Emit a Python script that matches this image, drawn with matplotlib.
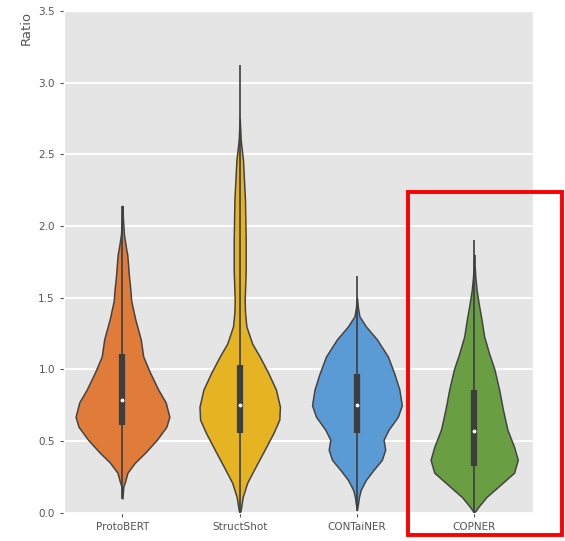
import matplotlib
matplotlib.use("Agg")
import matplotlib.pyplot as plt
from matplotlib.patches import Rectangle
import numpy as np

plt.style.use("ggplot")

models = ["ProtoBERT", "StructShot", "CONTaiNER", "COPNER"]
colors = ["#E07B39", "#E6B422", "#5B9BD5", "#6A9E42"]

# density profiles: (ratio, relative half width)
proto_y = [0.10, 0.18, 0.22, 0.28, 0.35, 0.42, 0.51, 0.60, 0.67, 0.77, 0.86, 0.98,
           1.09, 1.21, 1.35, 1.48, 1.55, 1.65, 1.74, 1.80, 1.85, 1.94, 2.05, 2.14]
proto_d = [0, 0.8, 2.7, 5, 12.5, 22.8, 34.5, 44, 47, 43.3, 35.8, 27.5,
           20.8, 18.3, 12.8, 8.7, 8, 6.5, 5.5, 4.8, 3.5, 1.5, 0.5, 0]
struct_y = [0.00, 0.02, 0.11, 0.21, 0.32, 0.44, 0.56, 0.65, 0.74, 0.86, 0.98, 1.09,
            1.18, 1.30, 1.40, 1.48, 1.69, 1.90, 2.18, 2.46, 2.60, 2.75]
struct_d = [0, 1, 3, 7.5, 15.8, 25, 34, 39.7, 40.3, 36.3, 28.3, 20,
            12.5, 6.7, 5.3, 5, 6, 6, 5.3, 3.3, 1, 0]
cont_y = [0.02, 0.06, 0.11, 0.16, 0.23, 0.30, 0.37, 0.44, 0.51, 0.58, 0.67, 0.75,
          0.86, 0.97, 1.09, 1.21, 1.30, 1.37, 1.43, 1.50]
cont_d = [0, 1, 2, 3.8, 9, 16.7, 25, 28.3, 26.7, 31.7, 41, 45,
          42.5, 37.5, 31, 20, 9, 2.5, 1, 0]
cop_y = [0.00, 0.04, 0.11, 0.18, 0.28, 0.37, 0.46, 0.58, 0.72, 0.86, 1.00, 1.11,
         1.23, 1.35, 1.44, 1.55, 1.64, 1.72, 1.80]
cop_d = [0, 4, 12.2, 23.7, 40, 43.7, 40, 33.3, 28.8, 25, 20.3, 15,
         10, 7.3, 5, 2.5, 1.2, 0.5, 0]

# box stats: whisker low, q1, median, q3, whisker high
w_low = [0.10, 0.00, 0.01, 0.00]
q1 = [0.61, 0.56, 0.56, 0.33]
median = [0.79, 0.75, 0.75, 0.57]
q3 = [1.11, 1.03, 0.97, 0.86]
w_high = [2.14, 3.12, 1.65, 1.90]

profiles = [(proto_y, proto_d), (struct_y, struct_d), (cont_y, cont_d), (cop_y, cop_d)]
full_d = 47.0  # density that fills the 0.8 category width

fig = plt.figure(figsize=(5.65, 5.41), dpi=100)
ax = fig.add_axes([0.113, 0.052, 0.830, 0.928])

pos = np.arange(len(models))
stats, widths = [], []
for i, (ys, ds) in enumerate(profiles):
    ys, ds = np.array(ys), np.array(ds)
    stats.append(dict(coords=ys, vals=ds, mean=median[i], median=median[i],
                      min=w_low[i], max=w_high[i]))
    widths.append(0.8 * ds.max() / full_d)

parts = ax.violin(stats, positions=pos, widths=widths, showmeans=False,
                  showextrema=False, showmedians=False)
for body, c in zip(parts["bodies"], colors):
    body.set_facecolor(c)
    body.set_edgecolor("#444444")
    body.set_linewidth(1.1)
    body.set_alpha(1)
    body.set_zorder(2)

ax.vlines(pos, w_low, w_high, color="#3d3d3d", lw=1.2, zorder=3)
ax.vlines(pos, q1, q3, color="#3d3d3d", lw=4.5, zorder=3)
ax.scatter(pos, median, s=5, color="white", zorder=4)

ax.set_xlim(-0.5, 3.5)
ax.set_ylim(0, 3.5)
ax.set_xticks(pos)
ax.set_xticklabels(models)
ax.set_yticks(np.arange(0, 3.51, 0.5))
ax.grid(axis="x", visible=False)
ax.grid(axis="y", color="white", lw=1.3)
ax.tick_params(labelsize=7.5, colors="#555555", length=3)
ax.set_ylabel("Ratio", loc="top", fontsize=9.5, color="#555555")

fig.patches.append(Rectangle((408 / 565, 1 - 535 / 541), 154 / 565, 343 / 541,
                             transform=fig.transFigure, fill=False,
                             edgecolor="#FF0000", lw=2.8, zorder=10))

fig.savefig("out.png", dpi=100)
